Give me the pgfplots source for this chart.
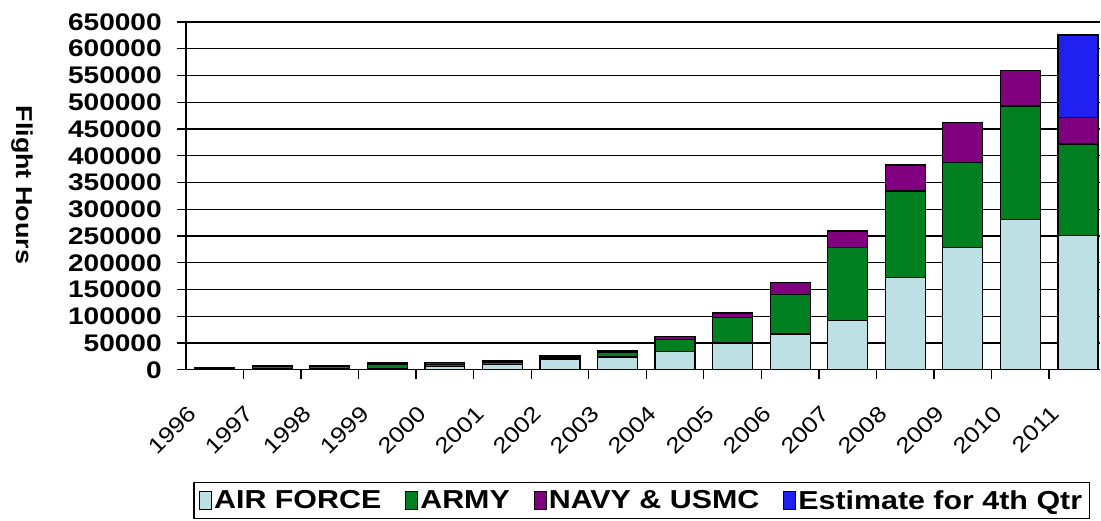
\documentclass[border=0pt]{standalone}
\usepackage{fontspec}
\setmainfont{Liberation Sans}[FakeStretch=1.17]
\usepackage{pgfplots}
\usepackage{pgfplotstable}
\pgfplotsset{compat=1.18}

\definecolor{airforce}{RGB}{189,224,228}
\definecolor{army}{RGB}{0,128,32}
\definecolor{navy}{RGB}{128,0,128}
\definecolor{estimate}{RGB}{32,32,240}

% flight hours per year
\pgfplotstableread{
x  air    army   navy   est
0  1500   1000   1000   0
1  2500   3000   1500   0
2  2500   3000   1500   0
3  2500   8000   2000   0
4  5500   4500   3000   0
5  10500  4000   2500   0
6  20000  4000   2500   0
7  24000  8500   2500   0
8  34000  22000  6000   0
9  49800  47900  8200   0
10 66600  74700  21800  0
11 91500  137000 31100  0
12 172400 161900 48600  0
13 228500 158700 74800  0
14 281400 211700 65900  0
15 250900 171200 49200  154400
}\flighthours

\begin{document}
\begin{tikzpicture}
\begin{axis}[
  name=ax,
  scale only axis, width=915pt, height=348pt,
  ybar stacked, bar width=40pt,
  xmin=-0.5, xmax=15.39, ymin=0, ymax=650000,
  axis lines=left, axis line style={-, line width=1.3pt},
  ymajorgrids, grid style={black, line width=1.3pt},
  tick align=outside, major tick length=9pt, minor tick length=9pt,
  ytick={0,50000,...,650000},
  scaled y ticks=false,
  /pgf/number format/assume math mode=true,
  /pgf/number format/fixed,
  /pgf/number format/precision=0,
  /pgf/number format/1000 sep={},
  y tick label style={font=\bfseries\fontsize{24}{24}\selectfont, inner sep=2pt, xshift=-13pt},
  ytick style={black, line width=1.3pt},
  xtick={0,...,15},
  xticklabels={1996,1997,1998,1999,2000,2001,2002,2003,2004,2005,2006,2007,2008,2009,2010,2011},
  major x tick style={draw=none},
  minor xtick={0.5,1.5,...,14.5},
  minor x tick style={black, line width=1.3pt},
  x tick label style={xshift=-28pt, yshift=-25pt, rotate=45, anchor=north east, inner sep=0pt,
    font=\fontsize{22}{22}\selectfont},
  every axis plot/.append style={draw=black, line width=1.3pt},
  legend image code/.code={\draw[#1, draw=black, line width=1pt] (0pt,-9pt) rectangle (12pt,9pt);},
  legend style={at={(0.4984,0)}, anchor=north, yshift=-112pt,
    legend columns=4, draw=black, line width=1.3pt,
    font=\bfseries\fontsize{26}{26}\selectfont,
    inner xsep=5pt, inner ysep=6pt,
    nodes={inner xsep=2pt},
    /tikz/every odd column/.style={column sep=0pt},
    /tikz/every even column/.style={column sep=22pt}},
]
\addplot[fill=airforce] table[x=x, y=air] {\flighthours};
\addplot[fill=army] table[x=x, y=army] {\flighthours};
\addplot[fill=navy] table[x=x, y=navy] {\flighthours};
\addplot[fill=estimate] table[x=x, y=est] {\flighthours};
\legend{AIR FORCE, ARMY, NAVY \& USMC, Estimate for 4th Qtr}
\end{axis}
\node[rotate=-90, font=\bfseries\fontsize{23}{23}\selectfont, inner sep=0pt]
  at ([xshift=-164pt,yshift=11pt]ax.west) {Flight Hours};
\path (ax.south west) ++(-186pt,-151pt);
\path (ax.north east) ++(0pt,22pt);
\end{tikzpicture}
\end{document}
